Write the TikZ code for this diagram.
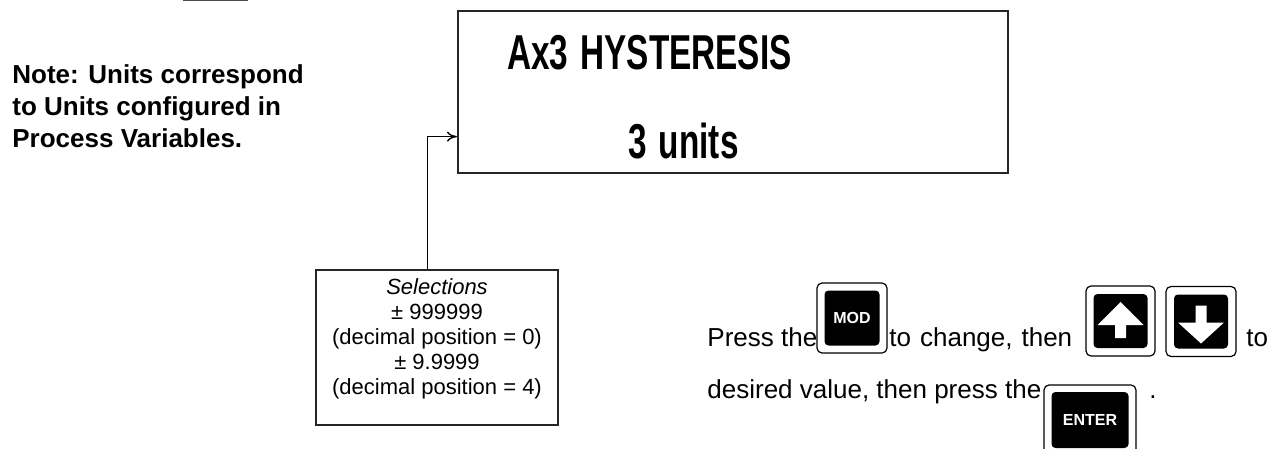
\documentclass[tikz,border=0pt]{standalone}
\usepackage{fontspec}
\setmainfont{Liberation Sans}
\newfontfamily\dispfont[FakeStretch=0.68]{Liberation Sans Bold}
\usetikzlibrary{arrows.meta, positioning, calc}

\begin{document}
\begin{tikzpicture}[x=0.5pt, y=-0.5pt,
    box/.style={draw=black!85, line width=1pt, inner sep=0pt},
    keyout/.style={draw=black, line width=0.6pt, rounded corners=2.5pt, fill=white, minimum width=35pt, minimum height=35pt, inner sep=0pt},
    keyin/.style={fill=black, rounded corners=2pt, minimum width=27pt, minimum height=27pt, inner sep=0pt, text=white, font=\bfseries\fontsize{8}{8}\selectfont},
    arr/.style={-{To[length=5pt,width=5pt]}, line width=0.7pt},
    txt/.style={anchor=base west, inner sep=0pt, font=\fontsize{13}{13}\selectfont},
    disptxt/.style={anchor=base west, inner sep=0pt, font=\dispfont\fontsize{24.5}{24.5}\selectfont}]
\useasboundingbox (0,0) rectangle (1274,449);
\draw[line width=1pt, black!70] (183,0) -- (248,0);
% note
\node[anchor=north west, inner sep=0pt, align=left, font=\bfseries\fontsize{13}{16}\selectfont] (note) at (12,64) {Note: Units correspond\\to Units configured in\\Process Variables.};
% display
\node[box, minimum width=275pt, minimum height=81pt] (disp) at (733,92) {};
\node[disptxt] (title) at (507,70) {Ax3\hspace{6pt}HYSTERESIS};
\node[disptxt] (value) at (628,158) {3\hspace{6pt}units};
% selections
\node[box, minimum width=121pt, minimum height=77.5pt] (sel) at (437,347.5) {};
\node[anchor=north, inner sep=0pt, align=center, font=\fontsize{11}{12.5}\selectfont] (seltxt) at ($(sel.north)+(0,9)$) {\textit{Selections}\\± 999999\\(decimal position = 0)\\± 9.9999\\(decimal position = 4)};
\draw[arr] ($(sel.north)+(-9.5,0)$) |- ($(disp.south west)!0.228!(disp.north west)$);
% instructions
\node[txt] (press) at (707,346) {Press the};
\node[keyout] (mod) at (852,318) {};
\node[keyin, minimum width=27.5pt, minimum height=27.5pt] (modin) at (mod) {MOD};
\node[txt] (change) at (889,346) {to\hspace{4.5pt}change,\hspace{4.5pt}then};
\node[keyout, minimum width=34.5pt] (up) at (1120.5,321) {};
\node[keyin] (upin) at (up) {};
\fill[white, shift={(up.center)}] (0,-19) -- (23,4) -- (5.5,4) -- (5.5,17) -- (-5.5,17) -- (-5.5,4) -- (-23,4) -- cycle;
\node[keyout] (down) at (1201,321.5) {};
\node[keyin] (downin) at (down) {};
\fill[white, shift={(down.center)}] (0,22) -- (23,1) -- (5.5,1) -- (5.5,-16) -- (-5.5,-16) -- (-5.5,1) -- (-23,1) -- cycle;
\node[txt] (to) at (1246,346) {to};
\node[txt] (desired) at (707,398) {desired value, then press the};
\node[keyout, minimum width=46pt] (enter) at (1090,420) {};
\node[keyin, minimum width=38.5pt, minimum height=28pt] (enterin) at (enter) {ENTER};
\node[txt] (dot) at (1149,398) {.};
\end{tikzpicture}
\end{document}
